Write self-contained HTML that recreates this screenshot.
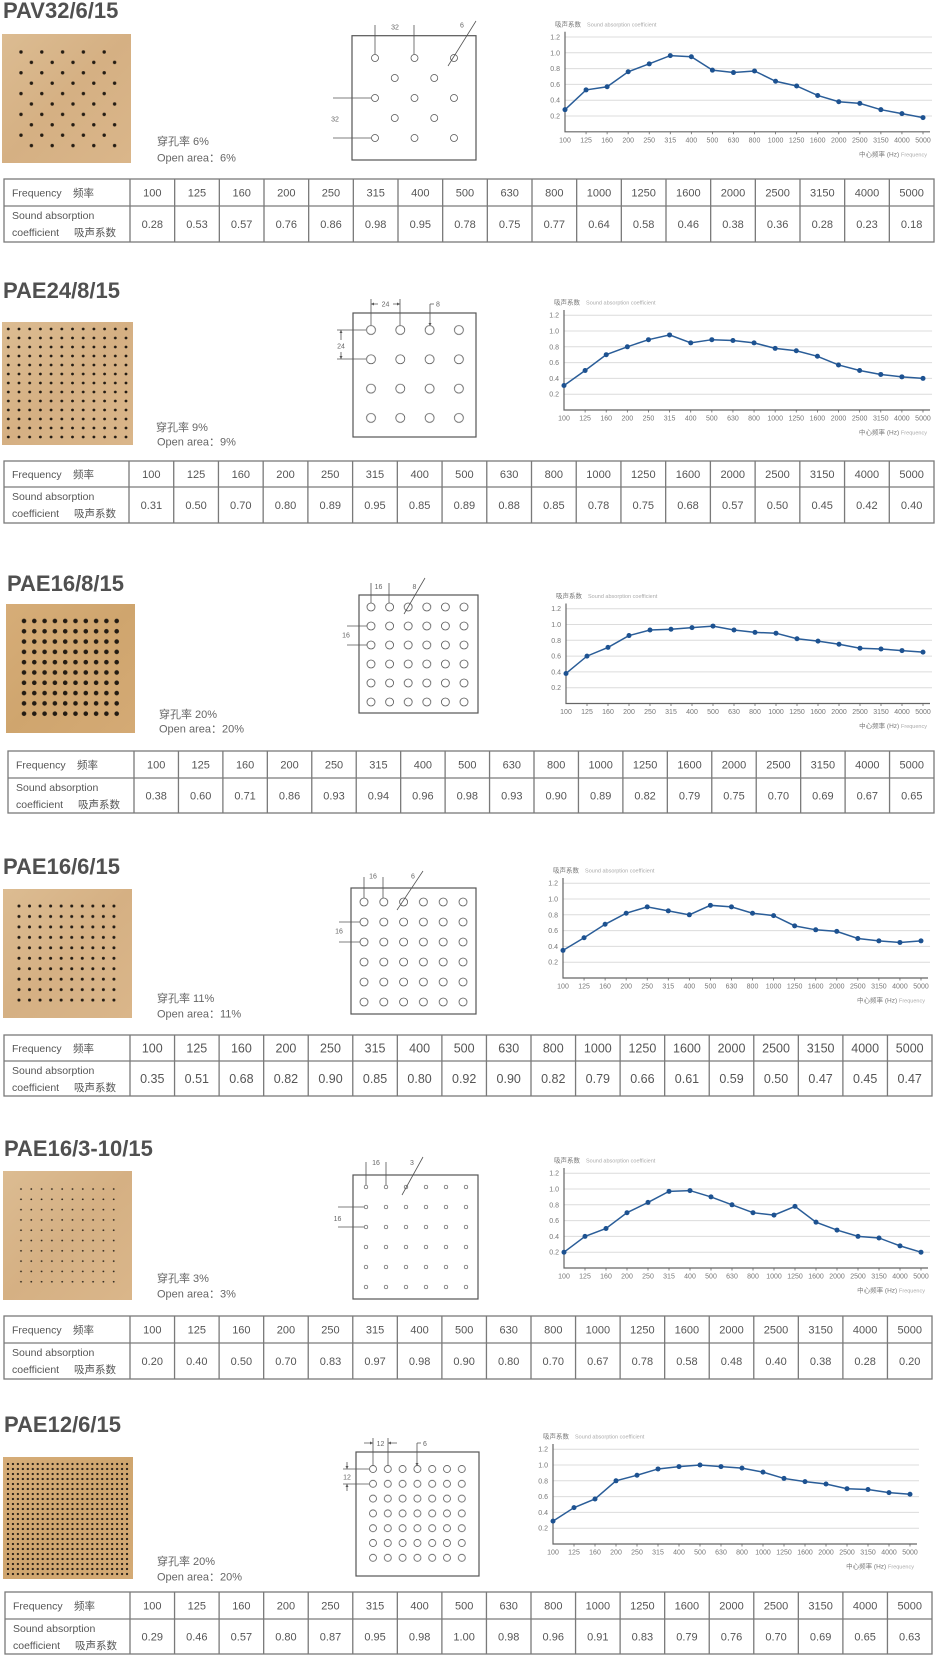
<!DOCTYPE html>
<html><head><meta charset="utf-8"><style>
html,body{margin:0;padding:0;background:#fff;}
body{width:937px;height:1667px;overflow:hidden;}
svg text{font-family:"Liberation Sans","Noto Sans CJK SC",sans-serif;}
.ttl{font-size:22px;font-weight:bold;fill:#505050}
.oa{font-size:11px;fill:#666}
.tn{font-size:11px;fill:#555;text-anchor:middle}
.tn4{font-size:12.5px}
.th{font-size:10.5px;fill:#555}
.tbl{fill:none;stroke:#7a7a7a;stroke-width:1.3}
.xl{font-size:7px;fill:#777;text-anchor:middle}
.yl{font-size:7px;fill:#777;text-anchor:end}
.c1{font-size:6.5px;fill:#777}
.c2{font-size:5.5px;fill:#aaa}
.dim{font-size:7px;fill:#666;text-anchor:middle}
.dl{stroke:#555;stroke-width:0.8;fill:none}
.ar{fill:#555}
.box{fill:#fff;stroke:#555;stroke-width:1.2}
.ser{fill:none;stroke:#2a5d98;stroke-width:1.5;marker-start:url(#mk);marker-mid:url(#mk);marker-end:url(#mk)}
</style></head><body>
<svg width="937" height="1667" viewBox="0 0 937 1667" xmlns="http://www.w3.org/2000/svg">
<defs>
<marker id="mk" markerWidth="6" markerHeight="6" refX="3" refY="3" markerUnits="userSpaceOnUse"><circle cx="3" cy="3" r="2.5" fill="#1d5291"/></marker>
<linearGradient id="wd" x1="0" y1="0" x2="1" y2="1"><stop offset="0" stop-color="#dcbc92"/><stop offset="0.5" stop-color="#d5b083"/><stop offset="1" stop-color="#dab68a"/></linearGradient>
<linearGradient id="wd2" x1="0" y1="0" x2="1" y2="1"><stop offset="0" stop-color="#d6ad78"/><stop offset="0.5" stop-color="#cfa56e"/><stop offset="1" stop-color="#d4aa75"/></linearGradient>
<pattern id="p1" x="15.8" y="46.8" width="20.8" height="20.8" patternUnits="userSpaceOnUse"><circle cx="5.2" cy="5.2" r="1.7" fill="#231b12"/><circle cx="15.6" cy="15.6" r="1.7" fill="#231b12"/></pattern>
<pattern id="p2" x="2.95" y="324.5" width="10.7" height="9" patternUnits="userSpaceOnUse"><circle cx="5.35" cy="4.5" r="1.4" fill="#231b12"/></pattern>
<pattern id="p3" x="18.85" y="615.85" width="10.3" height="10.3" patternUnits="userSpaceOnUse"><circle cx="5.15" cy="5.15" r="2.3" fill="#231b12"/></pattern>
<pattern id="p4" x="13.7" y="900.8" width="10.55" height="10.45" patternUnits="userSpaceOnUse"><circle cx="5.275" cy="5.225" r="1.5" fill="#231b12"/></pattern>
<pattern id="p5" x="15.85" y="1183.85" width="10.3" height="10.3" patternUnits="userSpaceOnUse"><circle cx="5.15" cy="5.15" r="0.9" fill="#332a20"/></pattern>
<pattern id="p6" x="5.5" y="1461.5" width="4.96" height="5" patternUnits="userSpaceOnUse"><circle cx="2.48" cy="2.5" r="1.15" fill="#2a2016"/></pattern>
<pattern id="h1" x="365" y="48" width="39.5" height="40" patternUnits="userSpaceOnUse"><circle cx="10" cy="10" r="3.5" fill="#fff" stroke="#555" stroke-width="0.8"/><circle cx="29.75" cy="30" r="3.5" fill="#fff" stroke="#555" stroke-width="0.8"/></pattern>
<pattern id="h2" x="356.35" y="315.35" width="29.3" height="29.3" patternUnits="userSpaceOnUse"><circle cx="14.65" cy="14.65" r="4.5" fill="#fff" stroke="#555" stroke-width="0.8"/></pattern>
<pattern id="h3" x="361.7" y="597.5" width="18.6" height="19" patternUnits="userSpaceOnUse"><circle cx="9.3" cy="9.5" r="4" fill="#fff" stroke="#555" stroke-width="0.8"/></pattern>
<pattern id="h4" x="354" y="892" width="19.8" height="20" patternUnits="userSpaceOnUse"><circle cx="10" cy="10" r="4" fill="#fff" stroke="#555" stroke-width="0.8"/></pattern>
<pattern id="h5" x="356" y="1177" width="20" height="20" patternUnits="userSpaceOnUse"><circle cx="10" cy="10" r="1.8" fill="#fff" stroke="#555" stroke-width="0.7"/></pattern>
<pattern id="h6" x="365.6" y="1461.6" width="14.8" height="14.8" patternUnits="userSpaceOnUse"><circle cx="7.4" cy="7.4" r="3.5" fill="#fff" stroke="#555" stroke-width="0.8"/></pattern>
<g id="fr">
<path d="M0,-15.8H366M0,-31.6H366M0,-47.4H366M0,-63.2H366M0,-79H366M0,-94.8H366" stroke="#dcdcdc" stroke-width="1" fill="none"/>
<path d="M0,-100V0H364" stroke="#666" stroke-width="1.2" fill="none"/>
<path d="M21,0v2.5M42,0v2.5M63,0v2.5M84,0v2.5M105,0v2.5M126,0v2.5M147,0v2.5M168,0v2.5M189,0v2.5M210,0v2.5M231,0v2.5M252,0v2.5M273,0v2.5M294,0v2.5M315,0v2.5M336,0v2.5M357,0v2.5" stroke="#666" stroke-width="0.8" fill="none"/>
</g>
</defs>

<!-- ================= SECTION 1 ================= -->
<text class="ttl" x="3" y="18">PAV32/6/15</text>
<rect x="2" y="34" width="129" height="129" fill="url(#wd)"/>
<rect x="15.8" y="46.8" width="104" height="104" fill="url(#p1)"/>
<text class="oa" x="157" y="145">穿孔率 6%</text>
<text class="oa" x="157" y="161.5">Open area：6%</text>
<rect class="box" x="352" y="35.7" width="124" height="124.3"/>
<rect x="365" y="48" width="103" height="100" fill="url(#h1)"/>
<path class="dl" d="M375,25V54M414,25V54M476,21L448,66M333,98H371M333,138H371"/>
<text class="dim" x="395" y="29.5">32</text>
<text class="dim" x="462" y="27.5">6</text>
<text class="dim" x="335" y="121.5">32</text>
<g transform="translate(565,131.8) scale(1.0028,1)">
<use href="#fr"/>
<text class="yl"><tspan x="-5" y="-13.3">0.2</tspan><tspan x="-5" y="-29.1">0.4</tspan><tspan x="-5" y="-44.9">0.6</tspan><tspan x="-5" y="-60.7">0.8</tspan><tspan x="-5" y="-76.5">1.0</tspan><tspan x="-5" y="-92.3">1.2</tspan></text>
<text class="xl" y="10.5"><tspan x="0">100</tspan><tspan x="21">125</tspan><tspan x="42">160</tspan><tspan x="63">200</tspan><tspan x="84">250</tspan><tspan x="105">315</tspan><tspan x="126">400</tspan><tspan x="147">500</tspan><tspan x="168">630</tspan><tspan x="189">800</tspan><tspan x="210">1000</tspan><tspan x="231">1250</tspan><tspan x="252">1600</tspan><tspan x="273">2000</tspan><tspan x="294">2500</tspan><tspan x="315">3150</tspan><tspan x="336">4000</tspan><tspan x="357">5000</tspan></text>
<text x="-10" y="-105.5"><tspan class="c1">吸声系数</tspan><tspan class="c2" dx="6">Sound absorption coefficient</tspan></text>
<text x="361" y="24.5" text-anchor="end"><tspan class="c1">中心频率 (Hz) </tspan><tspan class="c2">Frequency</tspan></text>
<polyline class="ser" points="0,-22.12 21,-41.87 42,-45.03 63,-60.04 84,-67.94 105,-76.2 126,-75.05 147,-61.62 168,-59.25 189,-60.83 210,-50.56 231,-45.82 252,-36.34 273,-30.02 294,-28.44 315,-22.12 336,-18.17 357,-14.22"/>
</g>
<rect class="tbl" x="4" y="179" width="930" height="63"/>
<path class="tbl" d="M4,206H934"/>
<text class="th" x="12" y="196.5">Frequency</text><text class="th" x="73" y="196.5">频率</text>
<text class="th" x="12" y="219">Sound absorption</text>
<text class="th" x="12" y="236">coefficient</text><text class="th" x="74" y="236">吸声系数</text>
<g transform="translate(130,179) scale(1.00375,1)">
<path class="tbl" d="M0,0V63M44.5,0V63M89,0V63M133.5,0V63M178,0V63M222.5,0V63M267,0V63M311.5,0V63M356,0V63M400.5,0V63M445,0V63M489.5,0V63M534,0V63M578.5,0V63M623,0V63M667.5,0V63M712,0V63M756.5,0V63"/>
<text class="tn" y="17.5"><tspan x="22.25">100</tspan><tspan x="66.75">125</tspan><tspan x="111.25">160</tspan><tspan x="155.75">200</tspan><tspan x="200.25">250</tspan><tspan x="244.75">315</tspan><tspan x="289.25">400</tspan><tspan x="333.75">500</tspan><tspan x="378.25">630</tspan><tspan x="422.75">800</tspan><tspan x="467.25">1000</tspan><tspan x="511.75">1250</tspan><tspan x="556.25">1600</tspan><tspan x="600.75">2000</tspan><tspan x="645.25">2500</tspan><tspan x="689.75">3150</tspan><tspan x="734.25">4000</tspan><tspan x="778.75">5000</tspan></text>
<text class="tn" y="49"><tspan x="22.25">0.28</tspan><tspan x="66.75">0.53</tspan><tspan x="111.25">0.57</tspan><tspan x="155.75">0.76</tspan><tspan x="200.25">0.86</tspan><tspan x="244.75">0.98</tspan><tspan x="289.25">0.95</tspan><tspan x="333.75">0.78</tspan><tspan x="378.25">0.75</tspan><tspan x="422.75">0.77</tspan><tspan x="467.25">0.64</tspan><tspan x="511.75">0.58</tspan><tspan x="556.25">0.46</tspan><tspan x="600.75">0.38</tspan><tspan x="645.25">0.36</tspan><tspan x="689.75">0.28</tspan><tspan x="734.25">0.23</tspan><tspan x="778.75">0.18</tspan></text>
</g>

<!-- ================= SECTION 2 ================= -->
<text class="ttl" x="3" y="298">PAE24/8/15</text>
<rect x="2" y="322" width="131" height="123" fill="url(#wd)"/>
<rect x="2.95" y="324.5" width="128.4" height="117" fill="url(#p2)"/>
<text class="oa" x="156" y="431">穿孔率 9%</text>
<text class="oa" x="157" y="445.5">Open area：9%</text>
<rect class="box" x="353" y="313" width="123" height="124"/>
<rect x="356.35" y="315.35" width="117.2" height="117.2" fill="url(#h2)"/>
<path class="dl" d="M371,299V325.5M400,299V325.5M371,304H378M393,304H400M430,304H434M430,304V325M341,330V340M341,352V359M337,330H366M337,359H366"/>
<path class="ar" d="M371,304l3,-1.5v3zM400,304l-3,-1.5v3zM430,326l-1.5,-3h3zM341,330l-1.5,3h3zM341,359l-1.5,-3h3z"/>
<text class="dim" x="385.5" y="306.5">24</text>
<text class="dim" x="438" y="306.5">8</text>
<text class="dim" x="341" y="348.5">24</text>
<g transform="translate(564,410) scale(1.0056,1)">
<use href="#fr"/>
<text class="yl"><tspan x="-5" y="-13.3">0.2</tspan><tspan x="-5" y="-29.1">0.4</tspan><tspan x="-5" y="-44.9">0.6</tspan><tspan x="-5" y="-60.7">0.8</tspan><tspan x="-5" y="-76.5">1.0</tspan><tspan x="-5" y="-92.3">1.2</tspan></text>
<text class="xl" y="10.5"><tspan x="0">100</tspan><tspan x="21">125</tspan><tspan x="42">160</tspan><tspan x="63">200</tspan><tspan x="84">250</tspan><tspan x="105">315</tspan><tspan x="126">400</tspan><tspan x="147">500</tspan><tspan x="168">630</tspan><tspan x="189">800</tspan><tspan x="210">1000</tspan><tspan x="231">1250</tspan><tspan x="252">1600</tspan><tspan x="273">2000</tspan><tspan x="294">2500</tspan><tspan x="315">3150</tspan><tspan x="336">4000</tspan><tspan x="357">5000</tspan></text>
<text x="-10" y="-105.5"><tspan class="c1">吸声系数</tspan><tspan class="c2" dx="6">Sound absorption coefficient</tspan></text>
<text x="361" y="24.5" text-anchor="end"><tspan class="c1">中心频率 (Hz) </tspan><tspan class="c2">Frequency</tspan></text>
<polyline class="ser" points="0,-24.49 21,-39.5 42,-55.3 63,-63.2 84,-70.31 105,-75.05 126,-67.15 147,-70.31 168,-69.52 189,-67.15 210,-61.62 231,-59.25 252,-53.72 273,-45.03 294,-39.5 315,-35.55 336,-33.18 357,-31.6"/>
</g>
<rect class="tbl" x="4" y="461" width="930" height="62"/>
<path class="tbl" d="M4,487H934"/>
<text class="th" x="12" y="478">Frequency</text><text class="th" x="73" y="478">频率</text>
<text class="th" x="12" y="500">Sound absorption</text>
<text class="th" x="12" y="517">coefficient</text><text class="th" x="74" y="517">吸声系数</text>
<g transform="translate(129,461) scale(1.005,1)">
<path class="tbl" d="M0,0V62M44.5,0V62M89,0V62M133.5,0V62M178,0V62M222.5,0V62M267,0V62M311.5,0V62M356,0V62M400.5,0V62M445,0V62M489.5,0V62M534,0V62M578.5,0V62M623,0V62M667.5,0V62M712,0V62M756.5,0V62"/>
<text class="tn" y="17"><tspan x="22.25">100</tspan><tspan x="66.75">125</tspan><tspan x="111.25">160</tspan><tspan x="155.75">200</tspan><tspan x="200.25">250</tspan><tspan x="244.75">315</tspan><tspan x="289.25">400</tspan><tspan x="333.75">500</tspan><tspan x="378.25">630</tspan><tspan x="422.75">800</tspan><tspan x="467.25">1000</tspan><tspan x="511.75">1250</tspan><tspan x="556.25">1600</tspan><tspan x="600.75">2000</tspan><tspan x="645.25">2500</tspan><tspan x="689.75">3150</tspan><tspan x="734.25">4000</tspan><tspan x="778.75">5000</tspan></text>
<text class="tn" y="48"><tspan x="22.25">0.31</tspan><tspan x="66.75">0.50</tspan><tspan x="111.25">0.70</tspan><tspan x="155.75">0.80</tspan><tspan x="200.25">0.89</tspan><tspan x="244.75">0.95</tspan><tspan x="289.25">0.85</tspan><tspan x="333.75">0.89</tspan><tspan x="378.25">0.88</tspan><tspan x="422.75">0.85</tspan><tspan x="467.25">0.78</tspan><tspan x="511.75">0.75</tspan><tspan x="556.25">0.68</tspan><tspan x="600.75">0.57</tspan><tspan x="645.25">0.50</tspan><tspan x="689.75">0.45</tspan><tspan x="734.25">0.42</tspan><tspan x="778.75">0.40</tspan></text>
</g>

<!-- ================= SECTION 3 ================= -->
<text class="ttl" x="7" y="591">PAE16/8/15</text>
<rect x="6" y="604" width="129" height="129" fill="url(#wd2)"/>
<rect x="18.85" y="615.85" width="103" height="103" fill="url(#p3)"/>
<text class="oa" x="159" y="718">穿孔率 20%</text>
<text class="oa" x="159" y="732.5">Open area：20%</text>
<rect class="box" x="359" y="595" width="119" height="118"/>
<rect x="361.7" y="597.5" width="111.6" height="114" fill="url(#h3)"/>
<path class="dl" d="M371,583V603M389,583V603M425,578L404,614M347,626H367M347,645H367"/>
<text class="dim" x="378.5" y="589">16</text>
<text class="dim" x="414.5" y="589">8</text>
<text class="dim" x="346" y="637.5">16</text>
<g transform="translate(566,703.5)">
<use href="#fr"/>
<text class="yl"><tspan x="-5" y="-13.3">0.2</tspan><tspan x="-5" y="-29.1">0.4</tspan><tspan x="-5" y="-44.9">0.6</tspan><tspan x="-5" y="-60.7">0.8</tspan><tspan x="-5" y="-76.5">1.0</tspan><tspan x="-5" y="-92.3">1.2</tspan></text>
<text class="xl" y="10.5"><tspan x="0">100</tspan><tspan x="21">125</tspan><tspan x="42">160</tspan><tspan x="63">200</tspan><tspan x="84">250</tspan><tspan x="105">315</tspan><tspan x="126">400</tspan><tspan x="147">500</tspan><tspan x="168">630</tspan><tspan x="189">800</tspan><tspan x="210">1000</tspan><tspan x="231">1250</tspan><tspan x="252">1600</tspan><tspan x="273">2000</tspan><tspan x="294">2500</tspan><tspan x="315">3150</tspan><tspan x="336">4000</tspan><tspan x="357">5000</tspan></text>
<text x="-10" y="-105.5"><tspan class="c1">吸声系数</tspan><tspan class="c2" dx="6">Sound absorption coefficient</tspan></text>
<text x="361" y="24.5" text-anchor="end"><tspan class="c1">中心频率 (Hz) </tspan><tspan class="c2">Frequency</tspan></text>
<polyline class="ser" points="0,-30.02 21,-47.4 42,-56.09 63,-67.94 84,-73.47 105,-74.26 126,-75.84 147,-77.42 168,-73.47 189,-71.1 210,-70.31 231,-64.78 252,-62.41 273,-59.25 294,-55.3 315,-54.51 336,-52.93 357,-51.35"/>
</g>
<rect class="tbl" x="8" y="751" width="926" height="62"/>
<path class="tbl" d="M8,778H934"/>
<text class="th" x="16" y="768.5">Frequency</text><text class="th" x="77" y="768.5">频率</text>
<text class="th" x="16" y="791">Sound absorption</text>
<text class="th" x="16" y="808">coefficient</text><text class="th" x="78" y="808">吸声系数</text>
<g transform="translate(134,751) scale(0.99875,1)">
<path class="tbl" d="M0,0V62M44.5,0V62M89,0V62M133.5,0V62M178,0V62M222.5,0V62M267,0V62M311.5,0V62M356,0V62M400.5,0V62M445,0V62M489.5,0V62M534,0V62M578.5,0V62M623,0V62M667.5,0V62M712,0V62M756.5,0V62"/>
<text class="tn" y="17.5"><tspan x="22.25">100</tspan><tspan x="66.75">125</tspan><tspan x="111.25">160</tspan><tspan x="155.75">200</tspan><tspan x="200.25">250</tspan><tspan x="244.75">315</tspan><tspan x="289.25">400</tspan><tspan x="333.75">500</tspan><tspan x="378.25">630</tspan><tspan x="422.75">800</tspan><tspan x="467.25">1000</tspan><tspan x="511.75">1250</tspan><tspan x="556.25">1600</tspan><tspan x="600.75">2000</tspan><tspan x="645.25">2500</tspan><tspan x="689.75">3150</tspan><tspan x="734.25">4000</tspan><tspan x="778.75">5000</tspan></text>
<text class="tn" y="48.5"><tspan x="22.25">0.38</tspan><tspan x="66.75">0.60</tspan><tspan x="111.25">0.71</tspan><tspan x="155.75">0.86</tspan><tspan x="200.25">0.93</tspan><tspan x="244.75">0.94</tspan><tspan x="289.25">0.96</tspan><tspan x="333.75">0.98</tspan><tspan x="378.25">0.93</tspan><tspan x="422.75">0.90</tspan><tspan x="467.25">0.89</tspan><tspan x="511.75">0.82</tspan><tspan x="556.25">0.79</tspan><tspan x="600.75">0.75</tspan><tspan x="645.25">0.70</tspan><tspan x="689.75">0.69</tspan><tspan x="734.25">0.67</tspan><tspan x="778.75">0.65</tspan></text>
</g>

<!-- ================= SECTION 4 ================= -->
<text class="ttl" x="3" y="874">PAE16/6/15</text>
<rect x="3" y="889" width="129" height="129" fill="url(#wd)"/>
<rect x="13.7" y="900.8" width="105.5" height="104.5" fill="url(#p4)"/>
<text class="oa" x="157" y="1002">穿孔率 11%</text>
<text class="oa" x="157" y="1017.5">Open area：11%</text>
<rect class="box" x="351" y="888" width="125" height="126"/>
<rect x="354" y="892" width="118.8" height="120" fill="url(#h4)"/>
<path class="dl" d="M364,877V898M383,877V898M423,871L397,910M339,922H360M339,942H360"/>
<text class="dim" x="373" y="878.5">16</text>
<text class="dim" x="413" y="878.5">6</text>
<text class="dim" x="339" y="933.5">16</text>
<g transform="translate(563,978) scale(1.0028,1)">
<use href="#fr"/>
<text class="yl"><tspan x="-5" y="-13.3">0.2</tspan><tspan x="-5" y="-29.1">0.4</tspan><tspan x="-5" y="-44.9">0.6</tspan><tspan x="-5" y="-60.7">0.8</tspan><tspan x="-5" y="-76.5">1.0</tspan><tspan x="-5" y="-92.3">1.2</tspan></text>
<text class="xl" y="10.5"><tspan x="0">100</tspan><tspan x="21">125</tspan><tspan x="42">160</tspan><tspan x="63">200</tspan><tspan x="84">250</tspan><tspan x="105">315</tspan><tspan x="126">400</tspan><tspan x="147">500</tspan><tspan x="168">630</tspan><tspan x="189">800</tspan><tspan x="210">1000</tspan><tspan x="231">1250</tspan><tspan x="252">1600</tspan><tspan x="273">2000</tspan><tspan x="294">2500</tspan><tspan x="315">3150</tspan><tspan x="336">4000</tspan><tspan x="357">5000</tspan></text>
<text x="-10" y="-105.5"><tspan class="c1">吸声系数</tspan><tspan class="c2" dx="6">Sound absorption coefficient</tspan></text>
<text x="361" y="24.5" text-anchor="end"><tspan class="c1">中心频率 (Hz) </tspan><tspan class="c2">Frequency</tspan></text>
<polyline class="ser" points="0,-27.65 21,-40.29 42,-53.72 63,-64.78 84,-71.1 105,-67.15 126,-63.2 147,-72.68 168,-71.1 189,-64.78 210,-62.41 231,-52.14 252,-48.19 273,-46.61 294,-39.5 315,-37.13 336,-35.55 357,-37.13"/>
</g>
<rect class="tbl" x="4" y="1035" width="928" height="61"/>
<path class="tbl" d="M4,1061H932"/>
<text class="th" x="12" y="1052">Frequency</text><text class="th" x="73" y="1052">频率</text>
<text class="th" x="12" y="1074">Sound absorption</text>
<text class="th" x="12" y="1091">coefficient</text><text class="th" x="74" y="1091">吸声系数</text>
<g transform="translate(130,1035) scale(1.00125,1)">
<path class="tbl" d="M0,0V61M44.5,0V61M89,0V61M133.5,0V61M178,0V61M222.5,0V61M267,0V61M311.5,0V61M356,0V61M400.5,0V61M445,0V61M489.5,0V61M534,0V61M578.5,0V61M623,0V61M667.5,0V61M712,0V61M756.5,0V61"/>
<text class="tn tn4" y="17.5"><tspan x="22.25">100</tspan><tspan x="66.75">125</tspan><tspan x="111.25">160</tspan><tspan x="155.75">200</tspan><tspan x="200.25">250</tspan><tspan x="244.75">315</tspan><tspan x="289.25">400</tspan><tspan x="333.75">500</tspan><tspan x="378.25">630</tspan><tspan x="422.75">800</tspan><tspan x="467.25">1000</tspan><tspan x="511.75">1250</tspan><tspan x="556.25">1600</tspan><tspan x="600.75">2000</tspan><tspan x="645.25">2500</tspan><tspan x="689.75">3150</tspan><tspan x="734.25">4000</tspan><tspan x="778.75">5000</tspan></text>
<text class="tn tn4" y="48"><tspan x="22.25">0.35</tspan><tspan x="66.75">0.51</tspan><tspan x="111.25">0.68</tspan><tspan x="155.75">0.82</tspan><tspan x="200.25">0.90</tspan><tspan x="244.75">0.85</tspan><tspan x="289.25">0.80</tspan><tspan x="333.75">0.92</tspan><tspan x="378.25">0.90</tspan><tspan x="422.75">0.82</tspan><tspan x="467.25">0.79</tspan><tspan x="511.75">0.66</tspan><tspan x="556.25">0.61</tspan><tspan x="600.75">0.59</tspan><tspan x="645.25">0.50</tspan><tspan x="689.75">0.47</tspan><tspan x="734.25">0.45</tspan><tspan x="778.75">0.47</tspan></text>
</g>

<!-- ================= SECTION 5 ================= -->
<text class="ttl" x="4" y="1156">PAE16/3-10/15</text>
<rect x="3" y="1171" width="129" height="129" fill="url(#wd)"/>
<rect x="15.85" y="1183.85" width="103" height="103" fill="url(#p5)"/>
<text class="oa" x="157" y="1282">穿孔率 3%</text>
<text class="oa" x="157" y="1297.5">Open area：3%</text>
<rect class="box" x="353" y="1175" width="125" height="124"/>
<rect x="356" y="1177" width="120" height="120" fill="url(#h5)"/>
<path class="dl" d="M366,1162V1185M386,1162V1185M423,1157L402,1195M338,1207H364M338,1227H364"/>
<text class="dim" x="376" y="1165">16</text>
<text class="dim" x="412" y="1165">3</text>
<text class="dim" x="337.5" y="1221">16</text>
<g transform="translate(564,1268)">
<use href="#fr"/>
<text class="yl"><tspan x="-5" y="-13.3">0.2</tspan><tspan x="-5" y="-29.1">0.4</tspan><tspan x="-5" y="-44.9">0.6</tspan><tspan x="-5" y="-60.7">0.8</tspan><tspan x="-5" y="-76.5">1.0</tspan><tspan x="-5" y="-92.3">1.2</tspan></text>
<text class="xl" y="10.5"><tspan x="0">100</tspan><tspan x="21">125</tspan><tspan x="42">160</tspan><tspan x="63">200</tspan><tspan x="84">250</tspan><tspan x="105">315</tspan><tspan x="126">400</tspan><tspan x="147">500</tspan><tspan x="168">630</tspan><tspan x="189">800</tspan><tspan x="210">1000</tspan><tspan x="231">1250</tspan><tspan x="252">1600</tspan><tspan x="273">2000</tspan><tspan x="294">2500</tspan><tspan x="315">3150</tspan><tspan x="336">4000</tspan><tspan x="357">5000</tspan></text>
<text x="-10" y="-105.5"><tspan class="c1">吸声系数</tspan><tspan class="c2" dx="6">Sound absorption coefficient</tspan></text>
<text x="361" y="24.5" text-anchor="end"><tspan class="c1">中心频率 (Hz) </tspan><tspan class="c2">Frequency</tspan></text>
<polyline class="ser" points="0,-15.8 21,-31.6 42,-39.5 63,-55.3 84,-65.57 105,-76.63 126,-77.42 147,-71.1 168,-63.2 189,-55.3 210,-52.93 231,-61.62 252,-45.82 273,-37.92 294,-31.6 315,-30.02 336,-22.12 357,-15.8"/>
</g>
<rect class="tbl" x="4" y="1316" width="928" height="63"/>
<path class="tbl" d="M4,1343H932"/>
<text class="th" x="12" y="1333.5">Frequency</text><text class="th" x="73" y="1333.5">频率</text>
<text class="th" x="12" y="1356">Sound absorption</text>
<text class="th" x="12" y="1373">coefficient</text><text class="th" x="74" y="1373">吸声系数</text>
<g transform="translate(130,1316) scale(1.00125,1)">
<path class="tbl" d="M0,0V63M44.5,0V63M89,0V63M133.5,0V63M178,0V63M222.5,0V63M267,0V63M311.5,0V63M356,0V63M400.5,0V63M445,0V63M489.5,0V63M534,0V63M578.5,0V63M623,0V63M667.5,0V63M712,0V63M756.5,0V63"/>
<text class="tn" y="17.5"><tspan x="22.25">100</tspan><tspan x="66.75">125</tspan><tspan x="111.25">160</tspan><tspan x="155.75">200</tspan><tspan x="200.25">250</tspan><tspan x="244.75">315</tspan><tspan x="289.25">400</tspan><tspan x="333.75">500</tspan><tspan x="378.25">630</tspan><tspan x="422.75">800</tspan><tspan x="467.25">1000</tspan><tspan x="511.75">1250</tspan><tspan x="556.25">1600</tspan><tspan x="600.75">2000</tspan><tspan x="645.25">2500</tspan><tspan x="689.75">3150</tspan><tspan x="734.25">4000</tspan><tspan x="778.75">5000</tspan></text>
<text class="tn" y="49"><tspan x="22.25">0.20</tspan><tspan x="66.75">0.40</tspan><tspan x="111.25">0.50</tspan><tspan x="155.75">0.70</tspan><tspan x="200.25">0.83</tspan><tspan x="244.75">0.97</tspan><tspan x="289.25">0.98</tspan><tspan x="333.75">0.90</tspan><tspan x="378.25">0.80</tspan><tspan x="422.75">0.70</tspan><tspan x="467.25">0.67</tspan><tspan x="511.75">0.78</tspan><tspan x="556.25">0.58</tspan><tspan x="600.75">0.48</tspan><tspan x="645.25">0.40</tspan><tspan x="689.75">0.38</tspan><tspan x="734.25">0.28</tspan><tspan x="778.75">0.20</tspan></text>
</g>

<!-- ================= SECTION 6 ================= -->
<text class="ttl" x="4" y="1432">PAE12/6/15</text>
<rect x="3" y="1457" width="130" height="122" fill="url(#wd2)"/>
<rect x="5.5" y="1461.5" width="124" height="115" fill="url(#p6)"/>
<text class="oa" x="157" y="1565">穿孔率 20%</text>
<text class="oa" x="157" y="1580.5">Open area：20%</text>
<rect class="box" x="356" y="1452" width="123" height="124"/>
<rect x="365.6" y="1461.6" width="103.6" height="103.6" fill="url(#h6)"/>
<path class="dl" d="M373,1438V1465.5M388,1438V1465.5M364,1443H373M388,1443H397M417,1443V1465M417,1443H421M343,1469H369M343,1484H369M347,1462V1469M347,1484V1491"/>
<path class="ar" d="M373,1443l-3,-1.5v3zM388,1443l3,-1.5v3zM417,1466l-1.5,-3h3zM347,1469l-1.5,-3h3zM347,1484l-1.5,3h3z"/>
<text class="dim" x="380.5" y="1446">12</text>
<text class="dim" x="425" y="1446">6</text>
<text class="dim" x="347" y="1479.5">12</text>
<g transform="translate(553,1544)">
<use href="#fr"/>
<text class="yl"><tspan x="-5" y="-13.3">0.2</tspan><tspan x="-5" y="-29.1">0.4</tspan><tspan x="-5" y="-44.9">0.6</tspan><tspan x="-5" y="-60.7">0.8</tspan><tspan x="-5" y="-76.5">1.0</tspan><tspan x="-5" y="-92.3">1.2</tspan></text>
<text class="xl" y="10.5"><tspan x="0">100</tspan><tspan x="21">125</tspan><tspan x="42">160</tspan><tspan x="63">200</tspan><tspan x="84">250</tspan><tspan x="105">315</tspan><tspan x="126">400</tspan><tspan x="147">500</tspan><tspan x="168">630</tspan><tspan x="189">800</tspan><tspan x="210">1000</tspan><tspan x="231">1250</tspan><tspan x="252">1600</tspan><tspan x="273">2000</tspan><tspan x="294">2500</tspan><tspan x="315">3150</tspan><tspan x="336">4000</tspan><tspan x="357">5000</tspan></text>
<text x="-10" y="-105.5"><tspan class="c1">吸声系数</tspan><tspan class="c2" dx="6">Sound absorption coefficient</tspan></text>
<text x="361" y="24.5" text-anchor="end"><tspan class="c1">中心频率 (Hz) </tspan><tspan class="c2">Frequency</tspan></text>
<polyline class="ser" points="0,-22.91 21,-36.34 42,-45.03 63,-63.2 84,-68.73 105,-75.05 126,-77.42 147,-79 168,-77.42 189,-75.84 210,-71.89 231,-65.57 252,-62.41 273,-60.04 294,-55.3 315,-54.51 336,-51.35 357,-49.77"/>
</g>
<rect class="tbl" x="5" y="1592" width="927" height="62"/>
<path class="tbl" d="M5,1619H932"/>
<text class="th" x="13" y="1609.5">Frequency</text><text class="th" x="74" y="1609.5">频率</text>
<text class="th" x="13" y="1632">Sound absorption</text>
<text class="th" x="13" y="1649">coefficient</text><text class="th" x="75" y="1649">吸声系数</text>
<g transform="translate(130,1592) scale(1.00125,1)">
<path class="tbl" d="M0,0V62M44.5,0V62M89,0V62M133.5,0V62M178,0V62M222.5,0V62M267,0V62M311.5,0V62M356,0V62M400.5,0V62M445,0V62M489.5,0V62M534,0V62M578.5,0V62M623,0V62M667.5,0V62M712,0V62M756.5,0V62"/>
<text class="tn" y="17.5"><tspan x="22.25">100</tspan><tspan x="66.75">125</tspan><tspan x="111.25">160</tspan><tspan x="155.75">200</tspan><tspan x="200.25">250</tspan><tspan x="244.75">315</tspan><tspan x="289.25">400</tspan><tspan x="333.75">500</tspan><tspan x="378.25">630</tspan><tspan x="422.75">800</tspan><tspan x="467.25">1000</tspan><tspan x="511.75">1250</tspan><tspan x="556.25">1600</tspan><tspan x="600.75">2000</tspan><tspan x="645.25">2500</tspan><tspan x="689.75">3150</tspan><tspan x="734.25">4000</tspan><tspan x="778.75">5000</tspan></text>
<text class="tn" y="48.5"><tspan x="22.25">0.29</tspan><tspan x="66.75">0.46</tspan><tspan x="111.25">0.57</tspan><tspan x="155.75">0.80</tspan><tspan x="200.25">0.87</tspan><tspan x="244.75">0.95</tspan><tspan x="289.25">0.98</tspan><tspan x="333.75">1.00</tspan><tspan x="378.25">0.98</tspan><tspan x="422.75">0.96</tspan><tspan x="467.25">0.91</tspan><tspan x="511.75">0.83</tspan><tspan x="556.25">0.79</tspan><tspan x="600.75">0.76</tspan><tspan x="645.25">0.70</tspan><tspan x="689.75">0.69</tspan><tspan x="734.25">0.65</tspan><tspan x="778.75">0.63</tspan></text>
</g>
</svg>
</body></html>
